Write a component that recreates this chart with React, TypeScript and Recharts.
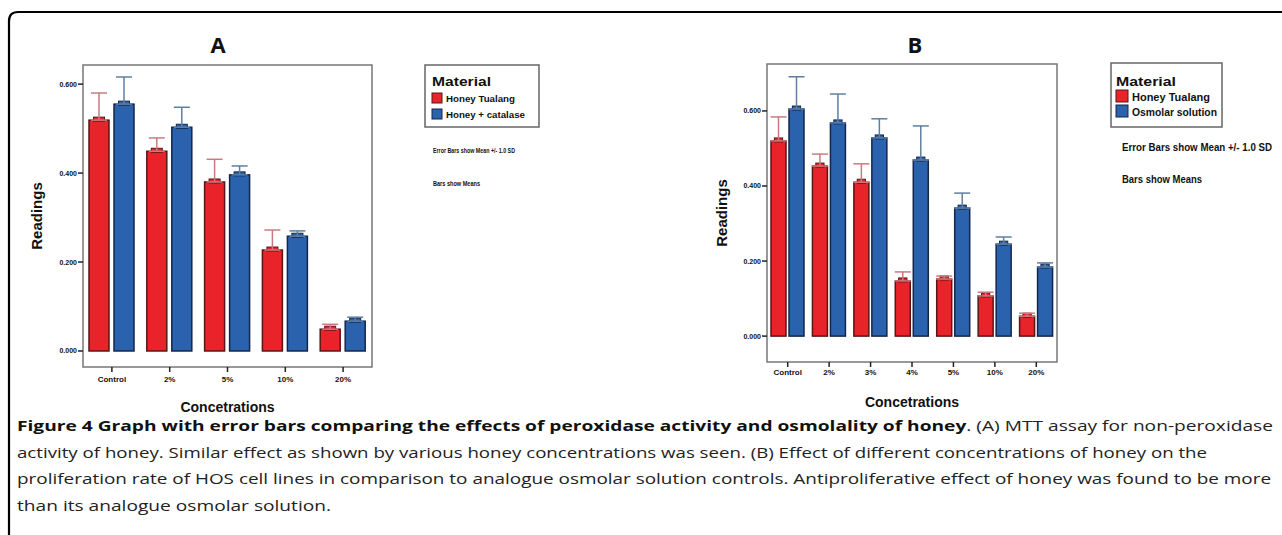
import React from 'react';
import {
  BarChart, Bar, XAxis, YAxis, ErrorBar, ReferenceArea, Legend
} from 'recharts';

// Panel A: Honey Tualang vs Honey + catalase
const categoriesA = ['Control', '2%', '5%', '10%', '20%'];
const tualangA = [0.519, 0.449, 0.380, 0.227, 0.049];
const tualangSdA = [0.061, 0.030, 0.051, 0.045, 0.011];
const catalaseA = [0.555, 0.503, 0.396, 0.258, 0.067];
const catalaseSdA = [0.061, 0.045, 0.020, 0.012, 0.009];

// Panel B: Honey Tualang vs Osmolar solution
const categoriesB = ['Control', '2%', '3%', '4%', '5%', '10%', '20%'];
const tualangB = [0.520, 0.453, 0.410, 0.147, 0.152, 0.107, 0.053];
const tualangSdB = [0.064, 0.032, 0.049, 0.024, 0.008, 0.010, 0.008];
const osmolarB = [0.605, 0.568, 0.528, 0.469, 0.341, 0.245, 0.184];
const osmolarSdB = [0.086, 0.077, 0.051, 0.091, 0.040, 0.019, 0.011];

const yTicks = [0, 0.2, 0.4, 0.6];

const captionLines = [
  { bold: 'Figure 4 Graph with error bars comparing the effects of peroxidase activity and osmolality of honey', text: '. (A) MTT assay for non-peroxidase' },
  { bold: '', text: 'activity of honey. Similar effect as shown by various honey concentrations was seen. (B) Effect of different concentrations of honey on the' },
  { bold: '', text: 'proliferation rate of HOS cell lines in comparison to analogue osmolar solution controls. Antiproliferative effect of honey was found to be more' },
  { bold: '', text: 'than its analogue osmolar solution.' },
];
const captionWidths = [1256, 1190, 1254, 314];

const RED = '#e8232a';
const RED_EDGE = '#5a1616';
const BLUE = '#2a62ae';
const BLUE_EDGE = '#14264a';

const toRows = (cats: string[], a: number[], aSd: number[], b: number[], bSd: number[]) =>
  cats.map((name, i) => ({
    name,
    red: a[i],
    redErr: [0, aSd[i]],
    blue: b[i],
    blueErr: [0, bSd[i]],
  }));

const dataA = toRows(categoriesA, tualangA, tualangSdA, catalaseA, catalaseSdA);
const dataB = toRows(categoriesB, tualangB, tualangSdB, osmolarB, osmolarSdB);

const BarShape = (props: any) => {
  const { x, y, width, height, fill, stroke } = props;
  if (!height || height <= 0) return null;
  const capW = width * 0.55;
  return (
    <g>
      <rect x={x} y={y} width={width} height={height} fill={fill} stroke={stroke} strokeWidth={1.5} />
      <rect x={x + (width - capW) / 2} y={y - 3} width={capW} height={4} fill={fill} stroke={stroke} strokeWidth={1} />
    </g>
  );
};

const boldFont = '"Liberation Sans", Arial, sans-serif';

const makeLegend = (lay: any) => (props: any) => {
  // keep series order (legend sorts by name otherwise)
  const payload = (props.payload || []).slice().sort((a: any, b: any) =>
    (a.dataKey === 'red' ? 0 : 1) - (b.dataKey === 'red' ? 0 : 1));
  return (
    <svg width={lay.w} height={130} style={{ overflow: 'visible', display: 'block' }}>
      <rect x={0} y={0} width={lay.boxW} height={lay.boxH} fill="#fff" stroke="#666" strokeWidth={1.5} />
      <text x={lay.pad} y={lay.titleY} fontFamily={boldFont} fontWeight="bold" fontSize={12}
        textLength={lay.titleLen} lengthAdjust="spacingAndGlyphs" fill="#111">Material</text>
      {payload.map((p: any, i: number) => (
        <g key={p.value}>
          <rect x={lay.pad} y={lay.swY[i]} width={lay.sw} height={lay.sw} fill={p.color}
            stroke={p.dataKey === 'red' ? RED_EDGE : BLUE_EDGE} strokeWidth={1} />
          <text x={lay.pad + lay.sw + 4} y={lay.swY[i] + lay.sw - 1} fontFamily={boldFont} fontWeight="bold"
            fontSize={lay.itemFont} textLength={lay.itemLen[i]} lengthAdjust="spacingAndGlyphs" fill="#111">
            {p.value}
          </text>
        </g>
      ))}
      <text x={lay.noteX} y={lay.note1Y} fontFamily={boldFont} fontWeight="bold" fontSize={lay.noteFont}
        textLength={lay.note1Len} lengthAdjust="spacingAndGlyphs" fill="#111">Error Bars show Mean +/- 1.0 SD</text>
      <text x={lay.noteX} y={lay.note2Y} fontFamily={boldFont} fontWeight="bold" fontSize={lay.noteFont}
        textLength={lay.note2Len} lengthAdjust="spacingAndGlyphs" fill="#111">Bars show Means</text>
    </svg>
  );
};

const legendA = makeLegend({
  w: 200, boxW: 114, boxH: 62, pad: 7, titleY: 21, titleLen: 59, sw: 10, swY: [28, 44],
  itemFont: 9, itemLen: [69, 79], noteX: 8, noteFont: 8, note1Y: 88, note1Len: 82, note2Y: 121, note2Len: 47,
});
const legendB = makeLegend({
  w: 200, boxW: 111, boxH: 64, pad: 5, titleY: 23, titleLen: 60, sw: 12, swY: [27, 42],
  itemFont: 10, itemLen: [78, 85], noteX: 11, noteFont: 10, note1Y: 88, note1Len: 150, note2Y: 120, note2Len: 80,
});

interface PanelProps {
  data: any[];
  width: number;
  margin: { top: number; right: number; bottom: number; left: number };
  domain: [number, number];
  barSize: number;
  barGap: number;
  blueName: string;
  legend: any;
  legendPos: { left: number; top: number };
  yLabelOffset: number;
  xLabelOffset: number;
  xTickMargin: number;
}

const Panel: React.FC<PanelProps> = (p) => (
  <BarChart width={p.width} height={420} data={p.data} margin={p.margin}
    barSize={p.barSize} barGap={p.barGap}>
    <ReferenceArea y1={p.domain[0]} y2={p.domain[1]} fill="none" stroke="#777" strokeWidth={1.5} />
    <XAxis dataKey="name" height={50} axisLine={false} tickSize={5} tickMargin={p.xTickMargin}
      tickLine={{ stroke: '#222', strokeWidth: 1.5 }}
      tick={{ fontSize: 8, fontWeight: 'bold', fill: '#111', fontFamily: boldFont }}
      interval={0}
      label={{ value: 'Concetrations', position: 'insideBottom', offset: p.xLabelOffset,
        style: { fontSize: 14, fontWeight: 'bold', fill: '#111', fontFamily: boldFont } }} />
    <YAxis type="number" width={50} domain={p.domain} ticks={yTicks} allowDataOverflow
      axisLine={false} tickSize={5} tickMargin={1}
      tickLine={{ stroke: '#222', strokeWidth: 1.5 }}
      tickFormatter={(v: number) => v.toFixed(3)}
      tick={{ fontSize: 7, fontWeight: 'bold', fill: '#111', fontFamily: boldFont }}
      label={{ value: 'Readings', angle: -90, position: 'insideLeft', offset: p.yLabelOffset,
        style: { textAnchor: 'middle', fontSize: 15, fontWeight: 'bold', fill: '#111', fontFamily: boldFont } }} />
    <Legend layout="vertical" align="center" verticalAlign="middle"
      wrapperStyle={{ left: p.legendPos.left, top: p.legendPos.top, width: 200 }}
      content={p.legend} />
    <Bar dataKey="red" name="Honey Tualang" fill={RED} stroke={RED_EDGE} shape={BarShape} isAnimationActive={false}>
      <ErrorBar dataKey="redErr" direction="y" width={8} stroke="#c97a80" strokeWidth={1.5} />
    </Bar>
    <Bar dataKey="blue" name={p.blueName} fill={BLUE} stroke={BLUE_EDGE} shape={BarShape} isAnimationActive={false}>
      <ErrorBar dataKey="blueErr" direction="y" width={8} stroke="#5f7f9f" strokeWidth={1.5} />
    </Bar>
  </BarChart>
);

const titleStyle: React.CSSProperties = {
  position: 'absolute', top: 29, width: 40, textAlign: 'center',
  fontFamily: '"Open Sans", sans-serif', fontWeight: 700, fontSize: 22, lineHeight: '30px', color: '#111',
};

const App: React.FC = () => (
  <div style={{ position: 'absolute', left: 0, top: 0, width: 1282, height: 535, background: '#fff', overflow: 'hidden' }}>
    <svg width={1282} height={535} style={{ position: 'absolute', left: 0, top: 0 }}>
      <path d="M 1282 12 L 18 12 Q 9 12 9 21 L 9 535" fill="none" stroke="#000" strokeWidth={2.2} />
      {captionLines.map((l, i) => (
        <text key={i} x={17} y={431 + i * 26.5} fontFamily='"Open Sans", sans-serif' fontSize={15} fill="#222"
          textLength={captionWidths[i]} lengthAdjust="spacingAndGlyphs">
          {l.bold && <tspan fontWeight="bold" fill="#111">{l.bold}</tspan>}
          <tspan>{l.text}</tspan>
        </text>
      ))}
    </svg>
    <div style={{ ...titleStyle, left: 198 }}>A</div>
    <div style={{ ...titleStyle, left: 895 }}>B</div>
    <div style={{ position: 'absolute', left: 0, top: 0 }}>
      <Panel data={dataA} width={660} margin={{ top: 65, right: 288, bottom: 3, left: 33 }}
        domain={[-0.036, 0.643]} barSize={20} barGap={5} blueName="Honey + catalase"
        legend={legendA} legendPos={{ left: 425, top: 65 }} yLabelOffset={4} xLabelOffset={5} xTickMargin={4} />
    </div>
    <div style={{ position: 'absolute', left: 660, top: 0 }}>
      <Panel data={dataB} width={622} margin={{ top: 64, right: 225, bottom: 8, left: 57 }}
        domain={[-0.069, 0.725]} barSize={15} barGap={3} blueName="Osmolar solution"
        legend={legendB} legendPos={{ left: 451, top: 63 }} yLabelOffset={5} xLabelOffset={5} xTickMargin={2} />
    </div>
  </div>
);

export default App;
